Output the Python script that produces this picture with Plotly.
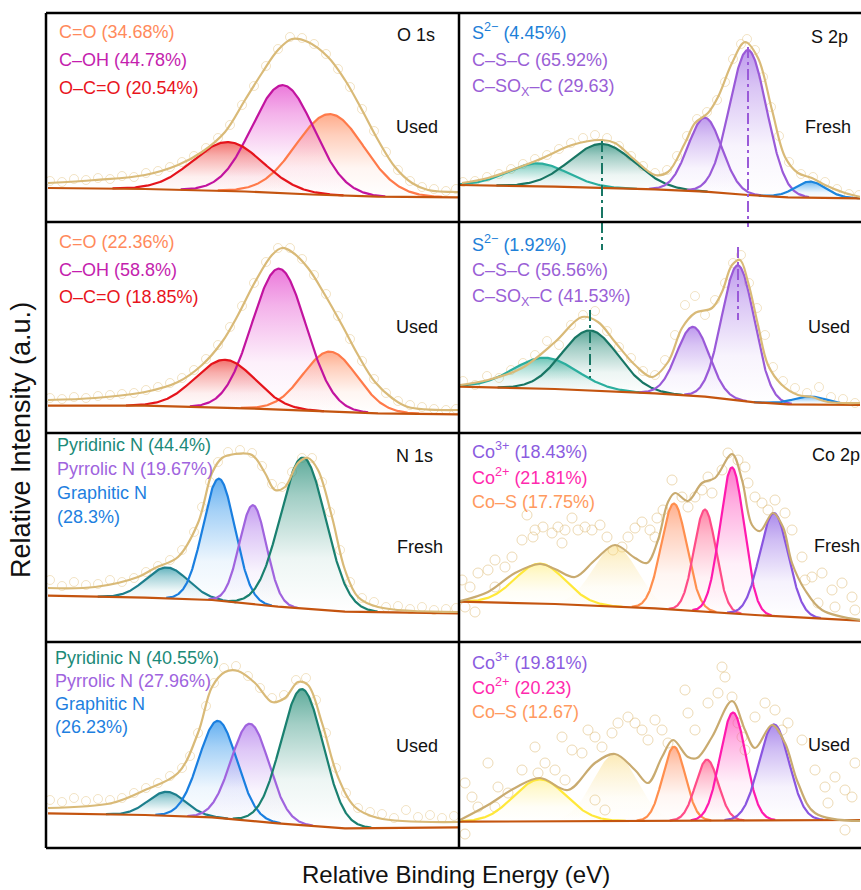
import numpy as np
import plotly.graph_objects as go

# ===================== DATA (arbitrary units) =====================
# x = relative binding energy (a.u.), y = relative intensity (a.u.)

# ---- Panel A : O 1s (row 1, left) ----
A_labels = ["C=O (34.68%)", "C–OH (44.78%)", "O–C=O (20.54%)"]
A_centers = [284, 237, 182]
A_heights = [81, 108, 49]
A_sigmas = [34, 31, 35]
A_base_x = [2, 99, 199, 266, 332, 412]
A_base_y = [34, 33, 30.5, 27.5, 25.3, 24.7]
A_env_x = [2, 49, 99, 132, 156, 179, 199, 216, 232, 246, 262, 282, 299, 316, 332, 349, 366, 382, 412]
A_env_y = [39, 42, 47, 57, 70, 90, 122, 149, 172, 183, 180, 165, 142, 112, 82, 55, 39, 32, 30]
A_raw_x = [4, 16, 28, 40, 52, 64, 76, 88, 100, 112, 124, 136, 148, 160, 172, 184, 196, 208, 220, 232,
           244, 256, 268, 280, 292, 304, 316, 328, 340, 352, 364, 376, 388, 400, 410]
A_raw_y = [41, 40, 43, 42, 44, 43, 46, 45, 49, 51, 55, 60, 66, 74, 84, 97, 117, 136, 156, 173,
           185, 184, 178, 168, 153, 135, 113, 91, 70, 52, 41, 35, 33, 31, 33]

# ---- Panel B : S 2p fresh (row 1, right) ----
B_labels = ["S<sup>2−</sup> (4.45%)", "C–S–C (65.92%)", "C–SO<sub>X</sub>–C (29.63)"]
B_centers = [79, 143, 246, 289, 351]
B_heights = [23, 44, 74, 145, 16]
B_sigmas = [30, 32, 17, 18.5, 15.5]
B_base_x = [1, 96, 196, 246, 289, 329, 402]
B_base_y = [37, 35.3, 32.7, 30.3, 27, 24.7, 23.7]
B_env_x = [3, 29, 79, 113, 143, 156, 176, 196, 209, 226, 236, 249, 259, 273, 286, 299, 313, 326, 339, 353, 366, 386, 402]
B_env_y = [39, 44, 62, 77, 82, 79, 62, 47, 50, 79, 99, 109, 125, 159, 180, 164, 112, 65, 49, 44, 37, 29, 25]
B_raw_x = [4, 16, 28, 40, 52, 64, 76, 88, 100, 112, 124, 136, 148, 160, 172, 184, 196, 208, 218, 228,
           238, 248, 258, 266, 274, 282, 288, 296, 304, 312, 320, 330, 342, 354, 366, 378, 390, 400]
B_raw_y = [40, 41, 45, 48, 53, 58, 63, 67, 73, 79, 84, 87, 84, 76, 66, 56, 49, 52, 66, 86,
           103, 110, 122, 140, 163, 178, 183, 172, 145, 115, 86, 60, 48, 45, 40, 33, 28, 27]

# ---- Panel C : O 1s used (row 2, left) ----
C_labels = ["C=O (22.36%)", "C–OH (58.8%)", "O–C=O (18.85%)"]
C_centers = [284, 233, 179]
C_heights = [60, 141, 48]
C_sigmas = [27, 27, 30]
C_base_x = [2, 99, 199, 266, 332, 412]
C_base_y = [27.3, 27.3, 24.7, 22, 19.7, 18.7]
C_env_x = [2, 49, 99, 132, 156, 176, 192, 209, 226, 236, 246, 262, 279, 296, 312, 329, 346, 362, 412]
C_env_y = [33, 35, 41, 51, 68, 91, 118, 151, 178, 185, 181, 165, 138, 108, 78, 51, 35, 26, 23]
C_raw_x = [4, 16, 28, 40, 52, 64, 76, 88, 100, 112, 124, 136, 148, 160, 172, 184, 196, 208, 220, 232,
           244, 256, 268, 280, 292, 304, 316, 328, 340, 352, 364, 376, 388, 400, 410]
C_raw_y = [35, 34, 36, 35, 37, 38, 39, 40, 43, 46, 50, 55, 63, 74, 88, 106, 127, 150, 171, 185,
           185, 174, 158, 139, 117, 94, 72, 54, 40, 32, 28, 26, 24, 23, 24]

# ---- Panel D : S 2p used (row 2, right) ----
D_labels = ["S<sup>2−</sup> (1.92%)", "C–S–C (56.56%)", "C–SO<sub>X</sub>–C (41.53%)"]
D_centers = [86, 131, 234, 279, 351]
D_heights = [31, 60, 69, 135, 8]
D_sigmas = [32, 28, 16.3, 16.3, 17]
D_base_x = [1, 96, 196, 246, 296, 329, 402]
D_base_y = [46.3, 44, 39.7, 36.3, 30.7, 28.7, 28]
D_env_x = [1, 29, 63, 96, 123, 139, 156, 176, 193, 209, 223, 236, 253, 263, 273, 281, 289, 299, 309, 323, 339, 353, 369, 402]
D_env_y = [48, 53, 65, 91, 116, 111, 91, 68, 56, 71, 105, 120, 125, 141, 168, 173, 151, 108, 68, 48, 38, 36, 31, 30]
D_raw_x = [4, 16, 28, 40, 52, 64, 76, 88, 100, 112, 124, 136, 148, 160, 172, 184, 196, 206, 216, 226,
           236, 246, 256, 266, 274, 282, 290, 298, 306, 314, 324, 336, 348, 360, 372, 384, 396]
D_raw_y = [52, 48, 57, 55, 63, 70, 78, 92, 88, 108, 118, 122, 102, 86, 75, 62, 58, 73, 98, 128,
           137, 118, 133, 150, 170, 178, 150, 125, 98, 66, 52, 45, 40, 46, 36, 34, 30]

# ---- Panel E : N 1s fresh (row 3, left) ----
E_labels = ["Pyridinic N (44.4%)", "Pyrrolic N (19.67%)", "Graphitic N", "(28.3%)"]
E_centers = [121, 173, 207, 257]
E_heights = [31, 122, 99, 151]
E_sigmas = [21, 16, 13.5, 22.6]
E_base_x = [2, 99, 166, 232, 299, 412]
E_base_y = [46.3, 44.3, 42, 35.3, 30.3, 28.7]
E_env_x = [2, 49, 92, 109, 132, 152, 166, 176, 189, 206, 219, 229, 239, 252, 262, 272, 286, 299, 312, 332, 412]
E_env_y = [54, 55, 65, 74, 85, 119, 169, 184, 188, 187, 169, 152, 155, 179, 184, 172, 125, 72, 45, 35, 30]
E_raw_x = [4, 16, 28, 40, 52, 64, 76, 88, 100, 112, 124, 136, 148, 156, 164, 172, 182, 194, 206, 216,
           226, 236, 246, 256, 266, 276, 284, 294, 304, 316, 328, 340, 352, 364, 376, 388, 400, 410]
E_raw_y = [62, 56, 60, 57, 58, 62, 60, 64, 70, 76, 82, 92, 110, 135, 160, 180, 190, 192, 189, 176,
           158, 155, 170, 184, 184, 160, 130, 92, 60, 44, 40, 35, 36, 33, 35, 32, 33, 34]

# ---- Panel F : Co 2p fresh (row 3, right) ----
F_labels = ["Co<sup>3+</sup> (18.43%)", "Co<sup>2+</sup> (21.81%)", "Co–S (17.75%)"]
F_centers = [81, 156, 215, 246, 273, 315]
F_heights = [40, 61, 106, 102, 146, 103]
F_sigmas = [25, 22, 12.8, 11, 12, 14.2]
F_base_x = [1, 96, 196, 296, 402]
F_base_y = [40.3, 38, 33.7, 27, 21.3]
F_env_x = [1, 29, 56, 81, 96, 116, 136, 156, 176, 188, 199, 209, 216, 229, 243, 256, 273, 283, 293, 301, 314, 324, 333, 346, 363, 402]
F_env_y = [41, 50, 69, 78, 73, 65, 82, 97, 84, 79, 102, 140, 149, 141, 159, 164, 188, 162, 117, 111, 129, 115, 79, 52, 32, 22]
F_raw_x = [3, 11, 6, 16, 29, 36, 46, 53, 63, 68, 76, 84, 74, 93, 99, 106, 113, 119, 126, 133,
           141, 148, 154, 163, 169, 176, 183, 191, 198, 204, 213, 223, 229, 236, 243, 249, 253, 263, 269, 279,
           286, 289, 296, 303, 309, 316, 326, 333, 343, 353, 363, 373, 383, 393, 376, 396, 359, 36, 19, 103,
           196, 346]
F_raw_y = [62, 55, 35, 30, 72, 82, 75, 85, 102, 127, 112, 115, 105, 109, 115, 112, 124, 112, 115, 112,
           117, 105, 92, 95, 105, 114, 120, 112, 124, 132, 162, 145, 135, 145, 152, 165, 149, 172, 189, 182,
           175, 159, 145, 139, 132, 142, 129, 112, 85, 65, 69, 52, 59, 45, 35, 32, 39, 55, 69, 99,
           105, 62]

# ---- Panel G : N 1s used (row 4, left) ----
G_labels = ["Pyridinic N (40.55%)", "Pyrrolic N (27.96%)", "Graphitic N", "(26.23%)"]
G_centers = [121, 172, 204, 256]
G_heights = [24, 97, 97, 136]
G_sigmas = [18.5, 19, 19, 21]
G_base_x = [2, 99, 166, 232, 299, 412]
G_base_y = [34.7, 33, 30.7, 24.7, 19.7, 20.7]
G_env_x = [2, 66, 99, 132, 152, 166, 179, 192, 209, 226, 239, 252, 262, 276, 292, 309, 332, 412]
G_env_y = [40, 45, 58, 75, 115, 161, 176, 177, 165, 146, 150, 166, 163, 125, 71, 41, 30, 26]
G_raw_x = [4, 16, 28, 40, 52, 64, 76, 88, 100, 112, 124, 136, 144, 152, 160, 168, 178, 190, 202, 214,
           226, 238, 250, 260, 270, 280, 290, 300, 312, 324, 336, 348, 360, 372, 384, 396, 408]
G_raw_y = [48, 46, 50, 47, 49, 48, 50, 55, 60, 65, 72, 80, 92, 115, 142, 165, 180, 182, 172, 160,
           150, 153, 168, 170, 148, 115, 80, 55, 40, 36, 34, 30, 38, 31, 33, 30, 32]

# ---- Panel H : Co 2p used (row 4, right) ----
H_labels = ["Co<sup>3+</sup> (19.81%)", "Co<sup>2+</sup> (20.23)", "Co–S (12.67)"]
H_centers = [81, 156, 215, 248, 274, 315]
H_heights = [42, 67, 74, 61, 108, 96]
H_sigmas = [26, 22, 11.3, 11.3, 12.8, 15]
H_base_x = [1, 402]
H_base_y = [26.3, 28]
H_env_x = [1, 29, 56, 81, 109, 136, 156, 176, 189, 203, 214, 229, 238, 253, 273, 286, 296, 313, 326, 339, 356, 402]
H_env_y = [28, 43, 60, 70, 58, 85, 94, 78, 65, 91, 108, 91, 90, 111, 147, 118, 100, 123, 105, 65, 35, 27]
H_raw_x = [6, 13, 19, 6, 29, 39, 49, 63, 76, 86, 96, 103, 113, 123, 129, 136, 143, 153, 159, 169,
           176, 183, 189, 196, 203, 209, 226, 229, 236, 249, 259, 263, 266, 273, 279, 283, 286, 296, 306, 316,
           323, 329, 343, 356, 366, 376, 386, 393, 396, 369, 386, 136, 146, 79, 106, 36]
H_raw_y = [65, 51, 41, 14, 85, 61, 55, 78, 101, 85, 78, 111, 98, 95, 118, 111, 101, 115, 125, 131,
           125, 118, 108, 128, 118, 105, 158, 135, 118, 145, 155, 181, 171, 151, 125, 111, 98, 131, 145, 138,
           118, 125, 108, 78, 61, 71, 58, 51, 85, 45, 18, 48, 38, 75, 68, 41]

AXIS_TITLE_X = "Relative Binding Energy (eV)"
AXIS_TITLE_Y = "Relative Intensity (a.u.)"

# ===================== STYLE / LAYOUT =====================
FIG_W, FIG_H = 861, 890
COL_EDGES = [46, 459, 860]
ROW_EDGES = [13, 222, 433, 642, 848]
FONT = "Liberation Sans, Arial, Helvetica, sans-serif"

ENV_TAN = "#D9BA78"
ENV_TAN_CO = "#C9AB70"
BASE_COLOR = "#C4540F"

O_LINE = ["#FF7A4A", "#C2149F", "#E5141C"]
O_FILL = [(255, 140, 95), (228, 70, 205), (238, 60, 55)]
O_TEXT = ["#FF8A5B", "#C41EAE", "#E8141C"]

S_LINE = ["#2BAE9E", "#187664", "#9A5AD8", "#9A5AD8", "#1B85DE"]
S_FILL = [(50, 175, 155), (30, 135, 115), (165, 115, 230), (165, 115, 230), (40, 150, 235)]
S_TEXT = ["#1E80D8", "#9A5FD6", "#9A5FD6"]

N_LINE = ["#1D7F8C", "#1A7FE0", "#A064DE", "#1A8070"]
N_FILL = [(40, 150, 165), (40, 145, 235), (175, 120, 235), (35, 140, 118)]
N_TEXT = ["#1B8A78", "#A064DE", "#1E7FE0", "#1E7FE0"]

CO_LINE = ["#FFE83A", None, "#FF8F4E", "#FF4D88", "#FF1AAE", "#8A55E0"]
CO_FILL = [(255, 236, 110), (248, 214, 110), (255, 145, 100), (255, 90, 135), (255, 70, 185), (140, 95, 228)]
CO_FILL_ALPHA = [0.55, 0.5, 0.72, 0.72, 0.72, 0.72]
CO_TEXT = ["#8B5CE0", "#FF2AAE", "#FF9A60"]

panels = [
    dict(col=0, row=0, c=A_centers, h=A_heights, s=A_sigmas, bx=A_base_x, by=A_base_y,
         ex=A_env_x, ey=A_env_y, rx=A_raw_x, ry=A_raw_y, labels=A_labels,
         lx=11, ltop=190, lstep=28, line=O_LINE, fill=O_FILL, text=O_TEXT, env=ENV_TAN, co=False,
         tags=[("O 1s", 391, 187, "right"), ("Used", 394, 95, "right")]),
    dict(col=1, row=0, c=B_centers, h=B_heights, s=B_sigmas, bx=B_base_x, by=B_base_y,
         ex=B_env_x, ey=B_env_y, rx=B_raw_x, ry=B_raw_y, labels=B_labels,
         lx=11, ltop=190, lstep=28, line=S_LINE, fill=S_FILL, text=S_TEXT, env=ENV_TAN, co=False,
         tags=[("S 2p", 391, 185, "right"), ("Fresh", 394, 95, "right")]),
    dict(col=0, row=1, c=C_centers, h=C_heights, s=C_sigmas, bx=C_base_x, by=C_base_y,
         ex=C_env_x, ey=C_env_y, rx=C_raw_x, ry=C_raw_y, labels=C_labels,
         lx=11, ltop=191, lstep=27.5, line=O_LINE, fill=O_FILL, text=O_TEXT, env=ENV_TAN, co=False,
         tags=[("Used", 394, 106, "right")]),
    dict(col=1, row=1, c=D_centers, h=D_heights, s=D_sigmas, bx=D_base_x, by=D_base_y,
         ex=D_env_x, ey=D_env_y, rx=D_raw_x, ry=D_raw_y, labels=D_labels,
         lx=11, ltop=190, lstep=27, line=S_LINE, fill=S_FILL, text=S_TEXT, env=ENV_TAN, co=False,
         tags=[("Used", 393, 106, "right")]),
    dict(col=0, row=2, c=E_centers, h=E_heights, s=E_sigmas, bx=E_base_x, by=E_base_y,
         ex=E_env_x, ey=E_env_y, rx=E_raw_x, ry=E_raw_y, labels=E_labels,
         lx=9, ltop=197, lstep=24, line=N_LINE, fill=N_FILL, text=N_TEXT, env=ENV_TAN, co=False,
         tags=[("N 1s", 389, 186, "right"), ("Fresh", 399, 95, "right")]),
    dict(col=1, row=2, c=F_centers, h=F_heights, s=F_sigmas, bx=F_base_x, by=F_base_y,
         ex=F_env_x, ey=F_env_y, rx=F_raw_x, ry=F_raw_y, labels=F_labels,
         lx=11, ltop=192, lstep=26, line=CO_LINE, fill=CO_FILL, text=CO_TEXT, env=ENV_TAN_CO, co=True,
         tags=[("Co 2p", 351, 187, "left"), ("Fresh", 353, 96, "left")]),
    dict(col=0, row=3, c=G_centers, h=G_heights, s=G_sigmas, bx=G_base_x, by=G_base_y,
         ex=G_env_x, ey=G_env_y, rx=G_raw_x, ry=G_raw_y, labels=G_labels,
         lx=7, ltop=190, lstep=23, line=N_LINE, fill=N_FILL, text=N_TEXT, env=ENV_TAN, co=False,
         tags=[("Used", 394, 102, "right")]),
    dict(col=1, row=3, c=H_centers, h=H_heights, s=H_sigmas, bx=H_base_x, by=H_base_y,
         ex=H_env_x, ey=H_env_y, rx=H_raw_x, ry=H_raw_y, labels=H_labels,
         lx=11, ltop=187, lstep=25.5, line=CO_LINE, fill=CO_FILL, text=CO_TEXT, env=ENV_TAN_CO, co=True,
         tags=[("Used", 393, 103, "right")]),
]

fig = go.Figure()
layout_axes = {}
annotations = []


def rgba(rgb, a):
    return "rgba(%d,%d,%d,%.3f)" % (rgb[0], rgb[1], rgb[2], a)


for n, p in enumerate(panels, start=1):
    sfx = "" if n == 1 else str(n)
    xa, ya = "x" + sfx, "y" + sfx
    l, r = COL_EDGES[p["col"]], COL_EDGES[p["col"] + 1]
    t, b = ROW_EDGES[p["row"]], ROW_EDGES[p["row"] + 1]
    W, H = r - l, b - t
    p["W"], p["H"], p["xa"], p["ya"] = W, H, xa, ya
    layout_axes["xaxis" + sfx] = dict(domain=[l / FIG_W, r / FIG_W], range=[0, W], visible=False,
                                      anchor=ya, fixedrange=True)
    layout_axes["yaxis" + sfx] = dict(domain=[1 - b / FIG_H, 1 - t / FIG_H], range=[0, H], visible=False,
                                      anchor=xa, fixedrange=True)

    # raw data (open circles)
    if p["co"]:
        mk = dict(symbol="circle-open", size=10, color="rgba(222,188,120,0.55)", line=dict(width=1))
    else:
        mk = dict(symbol="circle-open", size=9, color="rgba(230,200,140,0.5)", line=dict(width=1))
    fig.add_trace(go.Scatter(x=p["rx"], y=p["ry"], mode="markers", marker=mk, xaxis=xa, yaxis=ya,
                             hoverinfo="skip", showlegend=False))

    # fitted components: fills
    curves = []
    for k, (c, a, s) in enumerate(zip(p["c"], p["h"], p["s"])):
        xs = np.linspace(max(0, c - 3.3 * s), min(W, c + 3.3 * s), 240)
        bl = np.interp(xs, p["bx"], p["by"])
        ys = bl + a * np.exp(-0.5 * ((xs - c) / s) ** 2)
        curves.append((xs, ys, bl))
        col = p["fill"][k]
        top = CO_FILL_ALPHA[k] if p["co"] else 0.72
        fig.add_trace(go.Scatter(
            x=np.concatenate([xs, xs[::-1]]), y=np.concatenate([ys, bl[::-1]]),
            mode="lines", line=dict(width=0), fill="toself",
            fillgradient=dict(type="vertical",
                              colorscale=[[0, rgba(col, 0.0)], [0.35, rgba(col, 0.08 * top / 0.72)],
                                          [0.75, rgba(col, 0.42 * top / 0.72)], [1, rgba(col, top)]]),
            xaxis=xa, yaxis=ya, hoverinfo="skip", showlegend=False))

    # component lines
    for k, (xs, ys, bl) in enumerate(curves):
        lc = p["line"][k]
        if lc is None:
            continue
        fig.add_trace(go.Scatter(x=xs, y=ys, mode="lines", line=dict(color=lc, width=2.2),
                                 xaxis=xa, yaxis=ya, hoverinfo="skip", showlegend=False))

    # background (Shirley-type baseline)
    fig.add_trace(go.Scatter(x=p["bx"], y=p["by"], mode="lines", line=dict(color=BASE_COLOR, width=2.2),
                             xaxis=xa, yaxis=ya, hoverinfo="skip", showlegend=False))
    # envelope
    fig.add_trace(go.Scatter(x=p["ex"], y=p["ey"], mode="lines", line=dict(color=p["env"], width=2.2,
                                                                           shape="spline", smoothing=1.0),
                             xaxis=xa, yaxis=ya, hoverinfo="skip", showlegend=False))

    # labels
    for i, txt in enumerate(p["labels"]):
        annotations.append(dict(x=p["lx"], y=p["ltop"] - i * p["lstep"], xref=xa, yref=ya, text=txt,
                                showarrow=False, xanchor="left", yanchor="middle",
                                font=dict(family=FONT, size=18, color=p["text"][i])))
    for txt, tx, ty, anc in p["tags"]:
        annotations.append(dict(x=tx, y=ty, xref=xa, yref=ya, text=txt, showarrow=False,
                                xanchor=anc, yanchor="middle",
                                font=dict(family=FONT, size=18, color="#111111")))

# dash-dot guide lines in S 2p panels (at component centres)
pB, pD = panels[1], panels[3]
DASH = "11px,4px,3px,4px"
GUIDES = [
    (pB, B_centers[1], 81, 0, S_LINE[1]), (pB, B_centers[3], 175, 0, S_LINE[3]),
    (pD, B_centers[1], 211, 183, S_LINE[1]), (pD, B_centers[3], 211, 206, S_LINE[3]),
    (pD, D_centers[1], 123, 55, S_LINE[1]), (pD, D_centers[3], 186, 113, S_LINE[3]),
]
for p, gx, y0, y1, gc in GUIDES:
    fig.add_trace(go.Scatter(x=[gx, gx], y=[y0, y1], mode="lines",
                             line=dict(color=gc, width=2, dash=DASH),
                             xaxis=p["xa"], yaxis=p["ya"], hoverinfo="skip", showlegend=False))

# frame lines
shapes = []
LW = 2.5
def pl(x0, y0, x1, y1):
    shapes.append(dict(type="line", xref="paper", yref="paper",
                       x0=x0 / FIG_W, y0=1 - y0 / FIG_H, x1=x1 / FIG_W, y1=1 - y1 / FIG_H,
                       line=dict(color="black", width=LW)))
pl(COL_EDGES[0], ROW_EDGES[0], COL_EDGES[0], ROW_EDGES[-1])
pl(COL_EDGES[1], ROW_EDGES[0], COL_EDGES[1], ROW_EDGES[-1])
for yy in ROW_EDGES:
    pl(COL_EDGES[0], yy, FIG_W + 2, yy)

annotations.append(dict(x=456 / FIG_W, y=1 - 874 / FIG_H, xref="paper", yref="paper", text=AXIS_TITLE_X,
                        showarrow=False, xanchor="center", yanchor="middle",
                        font=dict(family=FONT, size=24, color="#111111")))
annotations.append(dict(x=21 / FIG_W, y=1 - 440 / FIG_H, xref="paper", yref="paper", text=AXIS_TITLE_Y,
                        showarrow=False, xanchor="center", yanchor="middle", textangle=-90,
                        font=dict(family=FONT, size=27, color="#111111")))

fig.update_layout(width=FIG_W, height=FIG_H, margin=dict(l=0, r=0, t=0, b=0),
                  paper_bgcolor="white", plot_bgcolor="rgba(0,0,0,0)", showlegend=False,
                  shapes=shapes, annotations=annotations, **layout_axes)

fig.write_html("out.html")
